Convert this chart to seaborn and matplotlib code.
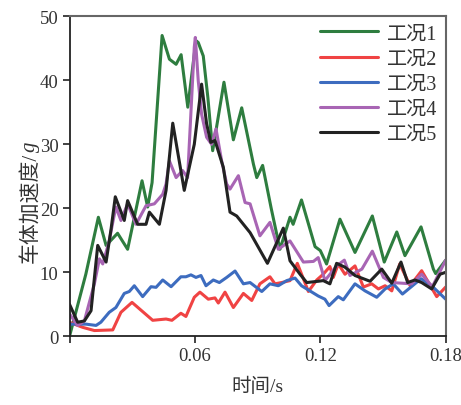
import pandas as pd
import seaborn as sns
import matplotlib.pyplot as plt

OUT = "out.png"

CASES = ["工况1", "工况2", "工况3", "工况4", "工况5"]
COLORS = ["#2e7d3f", "#f04343", "#3d6cbf", "#a865b4", "#222222"]

# time (s) / acceleration (g)
t1 = [0.0, 0.0078, 0.0138, 0.0175, 0.023, 0.0278, 0.0347, 0.0374, 0.0395, 0.0443,
      0.0478, 0.051, 0.0534, 0.0566, 0.0605, 0.0616, 0.064, 0.0662, 0.0685, 0.0739,
      0.0784, 0.0824, 0.088, 0.0896, 0.0924, 0.0965, 0.1007, 0.1055, 0.107, 0.111,
      0.1175, 0.12, 0.123, 0.1294, 0.1366, 0.1449, 0.1506, 0.1566, 0.1605, 0.1682,
      0.1741, 0.1752, 0.18]
v1 = [0.0, 9.7, 18.6, 14.2, 16.1, 13.6, 24.3, 20.2, 24.0, 47.0,
      43.3, 42.5, 44.0, 35.8, 46.2, 45.9, 43.8, 37.3, 29.0, 39.7,
      30.7, 35.7, 26.9, 24.8, 26.7, 20.0, 13.6, 18.6, 17.5, 21.3,
      14.0, 13.4, 11.3, 18.3, 13.1, 18.8, 11.6, 16.3, 12.6, 17.1,
      10.5, 9.8, 11.9]

t2 = [0.0, 0.0039, 0.0063, 0.0119, 0.0207, 0.0246, 0.0299, 0.0398, 0.0462, 0.049,
      0.0533, 0.0557, 0.0597, 0.0624, 0.0664, 0.0696, 0.0712, 0.0744, 0.0784, 0.0832,
      0.0872, 0.0911, 0.0959, 0.0983, 0.1015, 0.1055, 0.109, 0.1143, 0.1183, 0.1214,
      0.1246, 0.1262, 0.1286, 0.1318, 0.1366, 0.1406, 0.1446, 0.1478, 0.151, 0.1542,
      0.158, 0.163, 0.1685, 0.1757, 0.18]
v2 = [2.2, 1.7, 1.4, 0.9, 1.0, 3.75, 5.3, 2.5, 2.7, 2.5,
      3.6, 3.1, 6.1, 6.9, 5.8, 6.0, 5.2, 6.9, 4.5, 6.7,
      5.6, 8.2, 9.3, 8.2, 8.4, 8.7, 11.4, 7.0, 8.8, 9.7,
      10.9, 9.2, 11.3, 9.7, 11.0, 7.7, 8.2, 7.4, 7.9, 7.1,
      11.3, 7.9, 10.25, 6.2, 7.7]

t3 = [0.0, 0.0079, 0.0127, 0.015, 0.019, 0.0222, 0.0262, 0.0286, 0.031, 0.035,
      0.039, 0.0414, 0.0446, 0.0486, 0.0533, 0.0557, 0.0581, 0.0605, 0.0629, 0.0653,
      0.0688, 0.0717, 0.0752, 0.0792, 0.0832, 0.0864, 0.092, 0.0959, 0.0999, 0.1039,
      0.1079, 0.111, 0.119, 0.1222, 0.1242, 0.1286, 0.131, 0.1366, 0.1414, 0.147,
      0.151, 0.1549, 0.1593, 0.1682, 0.1733, 0.18]
v3 = [1.9, 1.9, 1.7, 2.2, 3.75, 4.5, 6.7, 7.0, 7.9, 6.2,
      7.75, 7.65, 8.8, 7.75, 9.3, 9.3, 9.6, 9.2, 9.5, 7.9,
      8.8, 8.4, 9.2, 10.2, 8.2, 8.4, 7.0, 8.2, 7.9, 8.7,
      9.1, 7.9, 6.3, 5.8, 4.8, 6.2, 5.7, 8.2, 7.1, 6.1,
      7.4, 8.2, 6.6, 9.0, 7.9, 5.8]

t4 = [0.0, 0.0039, 0.0071, 0.0119, 0.0143, 0.0159, 0.019, 0.0207, 0.0222, 0.0246,
      0.0278, 0.0318, 0.0366, 0.0406, 0.0446, 0.0462, 0.0478, 0.051, 0.0541, 0.0565,
      0.0597, 0.0602, 0.0616, 0.0632, 0.0656, 0.068, 0.0701, 0.0728, 0.0752, 0.0768,
      0.0808, 0.084, 0.0864, 0.0911, 0.0959, 0.0999, 0.1055, 0.1119, 0.1167, 0.119,
      0.1222, 0.1278, 0.1315, 0.1342, 0.1399, 0.1449, 0.1502, 0.1542, 0.1637, 0.1685,
      0.1736, 0.18]
v4 = [3.5, 1.7, 2.4, 8.2, 12.1, 11.3, 14.9, 17.8, 20.2, 18.1,
      20.7, 17.5, 20.4, 20.7, 22.2, 23.8, 27.4, 24.8, 25.9, 24.8,
      45.2, 46.7, 39.9, 34.7, 31.1, 30.0, 32.4, 27.4, 23.8, 23.0,
      25.1, 20.9, 20.7, 15.7, 17.8, 13.6, 14.9, 11.6, 11.7, 12.3,
      8.7, 11.0, 11.9, 9.5, 10.5, 13.3, 9.2, 8.4, 8.2, 9.7,
      7.75, 11.9]

t5 = [0.0, 0.0039, 0.0071, 0.0103, 0.0135, 0.0175, 0.0199, 0.0219, 0.0262, 0.0278,
      0.0326, 0.0366, 0.0382, 0.043, 0.0462, 0.0494, 0.0549, 0.0597, 0.0632, 0.0656,
      0.0676, 0.0696, 0.0736, 0.0768, 0.08, 0.0832, 0.0864, 0.0947, 0.1023, 0.1055,
      0.1103, 0.1135, 0.119, 0.1214, 0.1246, 0.1278, 0.1318, 0.1366, 0.1438, 0.1494,
      0.1542, 0.1586, 0.1618, 0.1653, 0.1685, 0.1733, 0.1773, 0.18]
v5 = [5.0, 2.2, 2.4, 4.0, 14.2, 11.6, 16.8, 21.8, 18.1, 21.2,
      17.5, 17.5, 19.4, 17.5, 22.8, 33.3, 22.8, 30.0, 39.4, 33.2,
      30.3, 30.6, 26.4, 19.4, 18.8, 17.5, 16.2, 11.4, 16.9, 11.8,
      9.7, 8.4, 8.6, 8.7, 8.2, 11.4, 10.8, 9.5, 8.6, 10.5,
      8.3, 11.6, 8.4, 8.8, 8.4, 7.4, 9.7, 10.0]

XTICKS = [0, 0.06, 0.12, 0.18]
XTICKLABELS = ["", "0.06", "0.12", "0.18"]
YTICKS = [0, 10, 20, 30, 40, 50]


def build_frame():
    parts = []
    for name, t, v in zip(CASES, [t1, t2, t3, t4, t5], [v1, v2, v3, v4, v5]):
        parts.append(pd.DataFrame({"t": t, "v": v, "case": name}))
    return pd.concat(parts, ignore_index=True)


def main():
    sns.set_style("ticks")
    plt.rcParams["font.family"] = ["Liberation Serif", "Noto Sans CJK SC"]

    df = build_frame()

    fig = plt.figure(figsize=(4.61, 4.06), dpi=100)
    ax = fig.add_axes([0.1508, 0.1692, 0.8160, 0.7882])

    sns.lineplot(data=df, x="t", y="v", hue="case", palette=COLORS,
                 estimator=None, sort=False, linewidth=2.2, ax=ax)
    for line in ax.get_lines():
        line.set_solid_joinstyle("round")

    ax.set_xlim(0, 0.18)
    ax.set_ylim(0, 50)
    ax.set_xticks(XTICKS)
    ax.set_xticklabels(XTICKLABELS)
    ax.set_yticks(YTICKS)
    ax.tick_params(labelsize=13.5, length=5, width=1.2, colors="#222222",
                   labelcolor="#333333", pad=3)

    for side in ["left", "bottom"]:
        ax.spines[side].set_color("#222222")
        ax.spines[side].set_linewidth(1.3)
    for side in ["top", "right"]:
        ax.spines[side].set_color("#666666")
        ax.spines[side].set_linewidth(1.5)

    ax.set_xlabel("时间/s", fontsize=14, color="#333333", labelpad=9)
    ax.set_ylabel("")

    # y label: CJK part plus an italic g on top
    ylab = fig.text(30 / 461, 1 - 263 / 406, "车体加速度/", rotation=90,
                    ha="center", va="bottom", fontsize=15, color="#333333")
    fig.canvas.draw()
    bb = ylab.get_window_extent()
    fig.text(30 / 461, (bb.y1 + 1) / fig.bbox.height, "g", rotation=90,
             ha="center", va="bottom", fontsize=15, color="#333333",
             style="italic", family="Liberation Serif")

    leg = ax.legend(loc="upper right", frameon=False, fontsize=14.5,
                    handlelength=2.9, handletextpad=0.45, labelspacing=0.3,
                    borderaxespad=0.0, bbox_to_anchor=(1.0, 1.0))
    for text in leg.get_texts():
        text.set_color("#333333")

    fig.savefig(OUT, dpi=100)
    plt.close(fig)


if __name__ == "__main__":
    main()
